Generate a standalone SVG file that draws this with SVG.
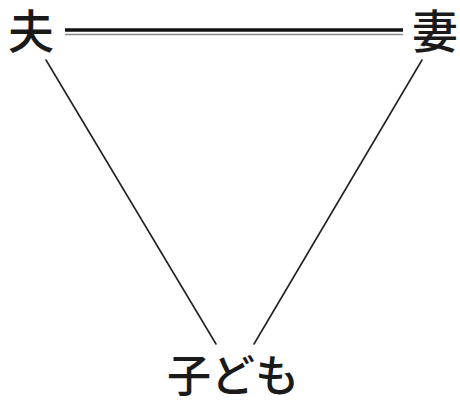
<svg xmlns="http://www.w3.org/2000/svg" width="460" height="401" viewBox="0 0 460 401">
<style>
.lbl{font-family:"Noto Sans CJK JP","Noto Sans CJK SC",sans-serif;fill:#1a1a1a;font-weight:500;}
.edge{stroke:#222;stroke-width:1.6;fill:none;stroke-linecap:round;}
</style>
<rect width="460" height="401" fill="#fff"/>
<g id="connectors">
<line class="edge" x1="65" y1="30" x2="403" y2="30" style="stroke-width:3.4;stroke:#111;stroke-linecap:butt"/>
<line class="edge" x1="65" y1="34.5" x2="403" y2="34.5" style="stroke-width:1.4;stroke:#8a8a8a;stroke-linecap:butt"/>
<line class="edge" x1="46" y1="60" x2="216" y2="344"/>
<line class="edge" x1="422" y1="60" x2="254" y2="344"/>
</g>
<g id="husband"><text class="lbl" x="31" y="48" font-size="46" text-anchor="middle">夫</text></g>
<g id="wife"><text class="lbl" x="435" y="48" font-size="46" text-anchor="middle">妻</text></g>
<g id="child"><text class="lbl" x="233" y="392" font-size="44" text-anchor="middle">子ども</text></g>
</svg>
